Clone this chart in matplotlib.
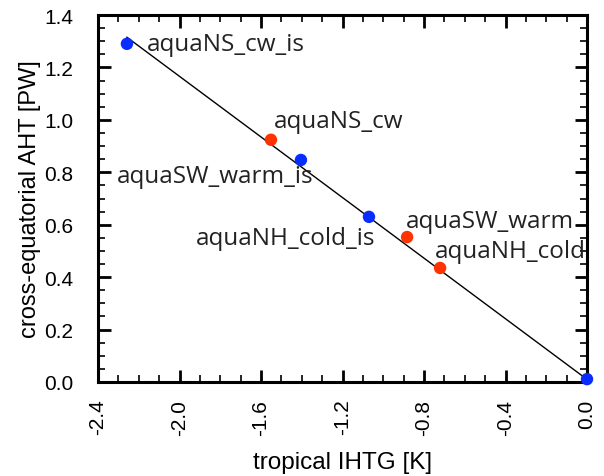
import numpy as np
import matplotlib
matplotlib.use("Agg")
import matplotlib.pyplot as plt
from matplotlib.ticker import MultipleLocator

# experiments: tropical IHTG [K] vs cross-equatorial AHT [PW]
names = ["aquaNS_cw_is", "aquaNS_cw", "aquaSW_warm_is", "aquaNH_cold_is",
         "aquaSW_warm", "aquaNH_cold", "control"]
ihtg = [-2.258, -1.551, -1.404, -1.070, -0.883, -0.721, 0.0]
aht = [1.290, 0.924, 0.847, 0.630, 0.553, 0.435, 0.011]
is_red = [False, True, False, False, True, True, False]

# regression line
fit_slope = -0.578
fit_intercept = 0.010

xtick_vals = [-2.4, -2.0, -1.6, -1.2, -0.8, -0.4, 0.0]
xtick_labels = ["-2.4", "-2.0", "-1.6", "-1.2", "-0.8", "-0.4", "0.0"]
ytick_vals = [0.0, 0.2, 0.4, 0.6, 0.8, 1.0, 1.2, 1.4]
ytick_labels = ["0.0", "0.2", "0.4", "0.6", "0.8", "1.0", "1.2", "1.4"]

# label placement (offset in pixels, horizontal alignment)
label_offsets = {
    "aquaNS_cw_is": ((20, 0), "left"),
    "aquaNS_cw": ((3, 19), "left"),
    "aquaSW_warm_is": ((13, -16), "right"),
    "aquaNH_cold_is": ((6, -21), "right"),
    "aquaSW_warm": ((-1, 16), "left"),
    "aquaNH_cold": ((-5, 17), "left"),
}

blue = "#0a2dff"
red = "#ff3300"

fig = plt.figure(figsize=(6.04, 4.77), dpi=100)
ax = fig.add_axes([98 / 604, 1 - 383 / 477, 489 / 604, 367 / 477])

x = np.array(ihtg)
y = np.array(aht)
xl = np.array([x.min(), x.max()])
ax.plot(xl, fit_slope * xl + fit_intercept, color="black", lw=1.0, zorder=2)

colors = [red if r else blue for r in is_red]
ax.scatter(x, y, s=80, c=colors, zorder=3, clip_on=False, linewidths=0)

for n, xi, yi in zip(names, ihtg, aht):
    if n not in label_offsets:
        continue
    off, ha = label_offsets[n]
    ax.annotate(n, (xi, yi), xytext=off, textcoords="offset pixels",
                ha=ha, va="center", fontsize=17.5, family="Open Sans",
                color="#222222", zorder=4)

ax.set_xlim(-2.4, 0.0)
ax.set_ylim(0.0, 1.4)
ax.set_xticks(xtick_vals)
ax.set_xticklabels(xtick_labels)
ax.xaxis.set_minor_locator(MultipleLocator(0.1))
ax.set_yticks(ytick_vals)
ax.set_yticklabels(ytick_labels)
ax.yaxis.set_minor_locator(MultipleLocator(0.05))

for s in ax.spines.values():
    s.set_linewidth(2.2)
ax.tick_params(which="both", direction="in", top=True, right=True,
               labelfontfamily="Liberation Sans", labelsize=15)
ax.tick_params(which="major", length=9, width=2)
ax.tick_params(which="minor", length=5, width=1.2)
ax.tick_params(axis="x", labelrotation=90, pad=12)
ax.tick_params(axis="y", pad=18)

ax.set_xlabel("tropical IHTG [K]", fontsize=17.5, family="Liberation Sans", labelpad=12)
ax.set_ylabel("cross-equatorial AHT [PW]", fontsize=17, family="Liberation Sans", labelpad=2)

fig.savefig("out.png", dpi=100)
